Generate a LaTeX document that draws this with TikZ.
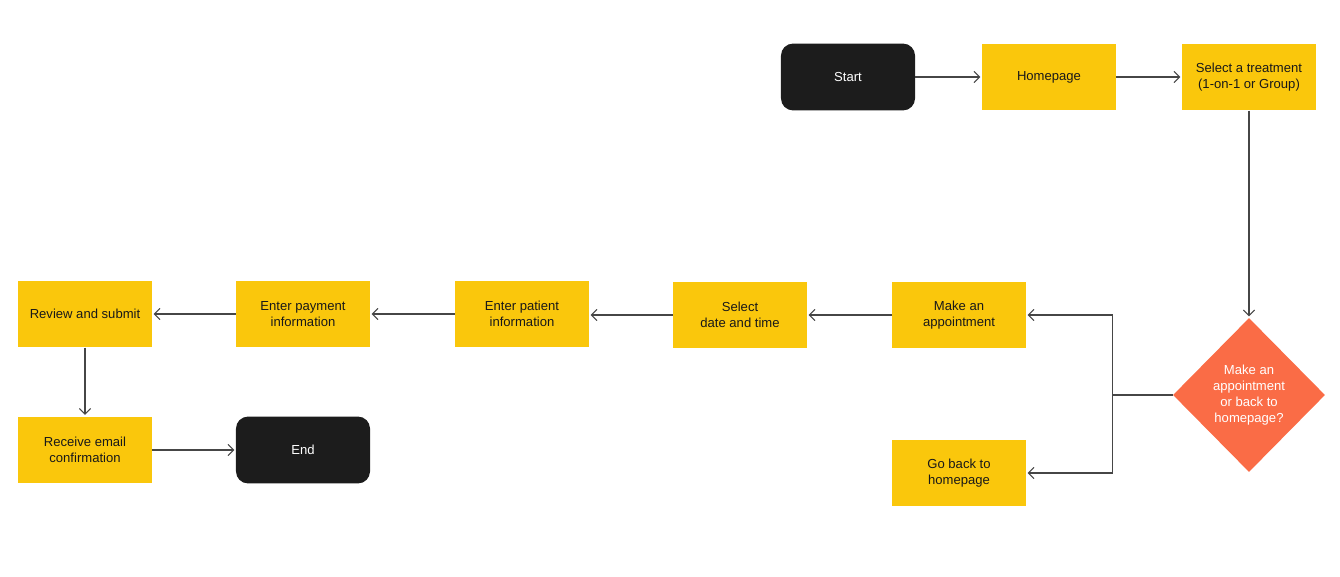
\documentclass[tikz,border=0pt]{standalone}
\usepackage{fontspec}
\setmainfont{Liberation Sans}
\usepackage{tikz}
\usetikzlibrary{positioning,shapes.geometric,arrows.meta,calc}
\definecolor{stepyellow}{RGB}{250,199,12}
\definecolor{termblack}{RGB}{28,28,28}
\definecolor{decorange}{RGB}{250,108,70}
\definecolor{linegray}{RGB}{70,70,70}

\begin{document}
\begin{tikzpicture}[
  x=0.025cm, y=-0.025cm,
  every node/.style={font=\fontsize{9.3}{11.2}\selectfont, align=center},
  stepbox/.style={rectangle, fill=stepyellow, text=black!90, minimum width=3.35cm, minimum height=1.67cm, inner sep=0pt},
  term/.style={rectangle, rounded corners=0.3cm, fill=termblack, text=white, minimum width=3.35cm, minimum height=1.67cm, inner sep=0pt},
  decision/.style={diamond, fill=decorange, text=white, minimum width=3.8cm, minimum height=3.85cm, inner sep=0pt},
  flow/.style={-{Straight Barb[length=1.4mm, width=2.8mm]}, draw=linegray, line width=0.75pt, shorten >=1pt}
]
  \useasboundingbox (0,0) rectangle (1340,577);

  \node[term] (start) at (848,77) {Start};
  \node[stepbox] (home) at (1049,77) {Homepage};
  \node[stepbox] (treat) at (1249,77) {Select a treatment\\(1-on-1 or Group)};
  \node[decision] (choice) at (1249,395) {Make an\\appointment\\or back to\\homepage?};

  \node[stepbox] (appt) at (959,315) {Make an\\appointment};
  \node[stepbox] (back) at (959,473) {Go back to\\homepage};
  \node[stepbox] (date) at (740,315) {Select\\date and time};
  \node[stepbox] (patient) at (522,314) {Enter patient\\information};
  \node[stepbox] (payment) at (303,314) {Enter payment\\information};
  \node[stepbox] (review) at (85,314) {Review and submit};
  \node[stepbox] (email) at (85,450) {Receive email\\confirmation};
  \node[term] (end) at (303,450) {End};

  \draw[flow] (start) -- (home);
  \draw[flow] (home) -- (treat);
  \draw[flow] (treat) -- (choice);

  \coordinate (split) at ($(choice.west)+(-60,0)$);
  \draw[linegray, line width=0.75pt] (choice.west) -- (split);
  \draw[flow] (split) |- (appt.east);
  \draw[flow] (split) |- (back.east);

  \foreach \a/\b in {appt/date, date/patient, patient/payment, payment/review}
    \draw[flow] (\a.west) -- (\a.west -| \b.east);

  \draw[flow] (review) -- (email);
  \draw[flow] (email) -- (end);
\end{tikzpicture}
\end{document}
